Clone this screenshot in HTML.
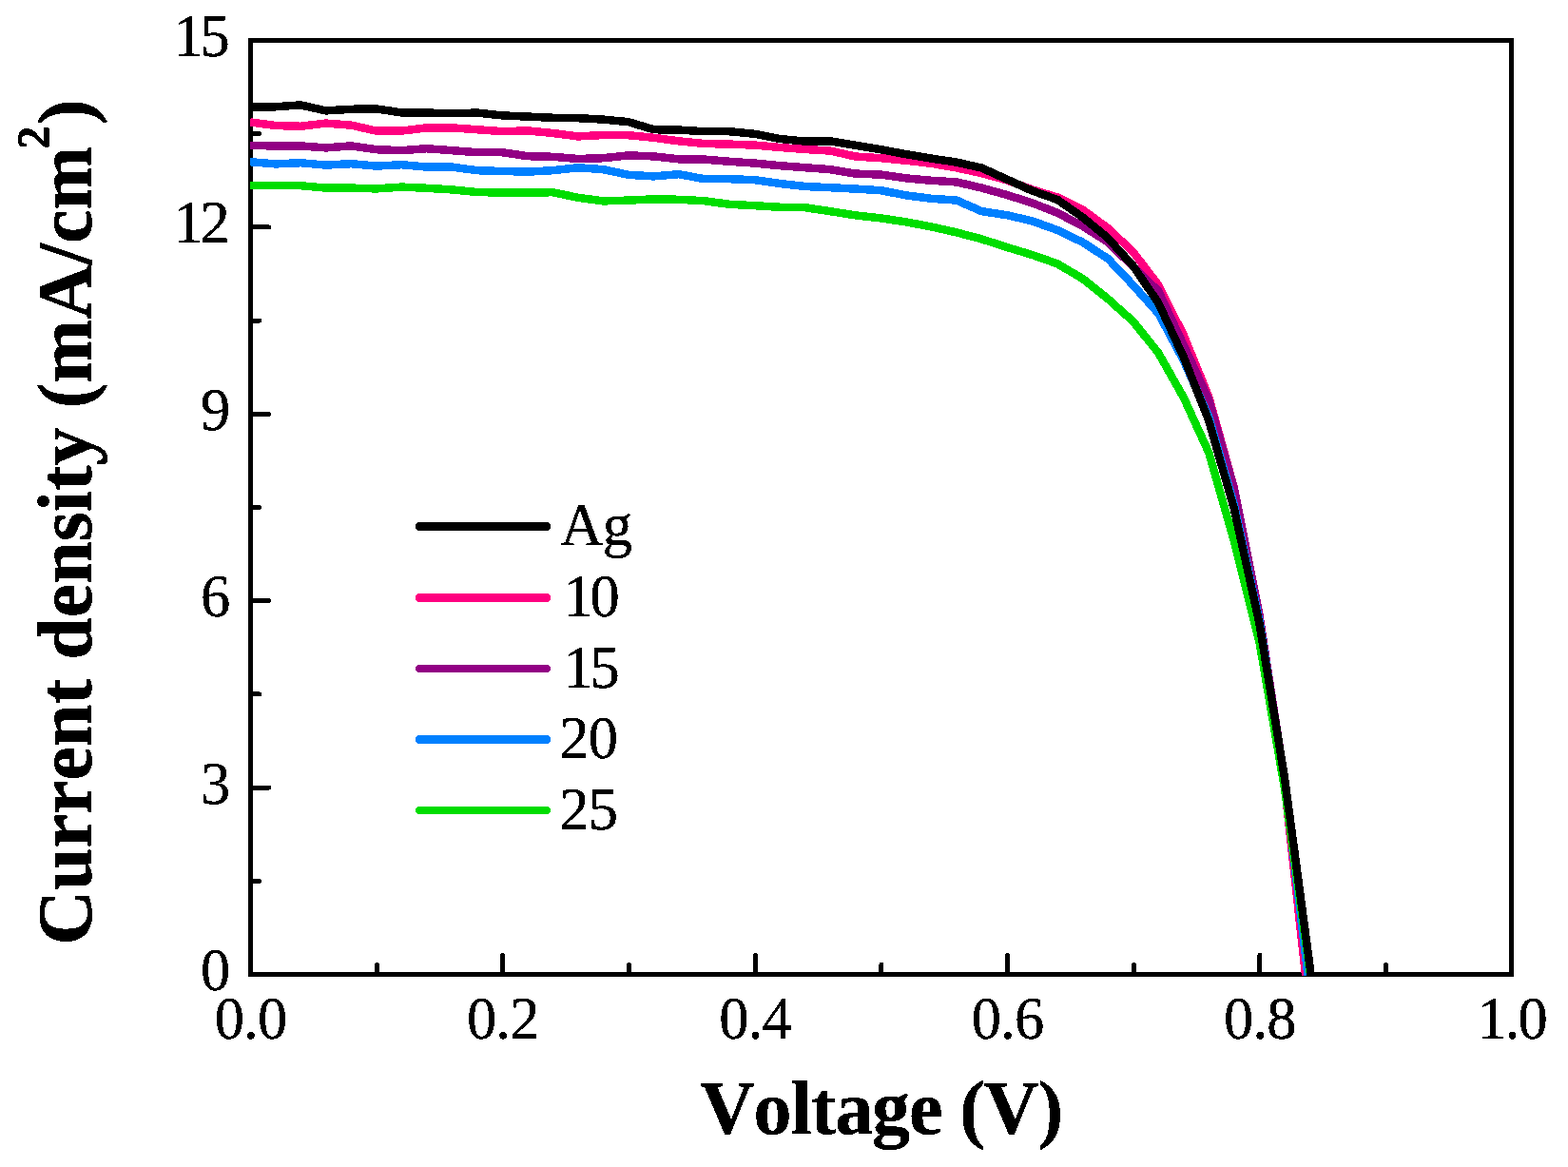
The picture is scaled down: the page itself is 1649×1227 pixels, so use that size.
<!DOCTYPE html>
<html lang="en"><head><meta charset="utf-8"><title>J-V curves</title>
<style>html,body{margin:0;padding:0;background:#fff;overflow:hidden}svg{display:block}text{font-family:"Liberation Serif","DejaVu Serif",serif;fill:#000;font-kerning:none;font-variant-ligatures:none;white-space:pre}.t{letter-spacing:-0.8px}.b{letter-spacing:-1.1px;font-weight:bold}.yb{font-weight:bold}</style>
</head><body>
<svg width="1649" height="1227" viewBox="0 0 1649 1227" shape-rendering="crispEdges">
<rect x="0" y="0" width="1649" height="1227" fill="#fff"/>
<defs><filter id="crisp" x="0" y="0" width="1649" height="1227" filterUnits="userSpaceOnUse" color-interpolation-filters="sRGB"><feComponentTransfer><feFuncA type="discrete" tableValues="0 1 1 1"/></feComponentTransfer></filter><clipPath id="plot"><rect x="263.0" y="42.5" width="1326.7" height="983.5"/></clipPath></defs>
<rect x="263.5" y="42.5" width="1326.0" height="982.0" fill="none" stroke="#000" stroke-width="5.0"/>
<path d="M396.2 1024.5 V1014.5 M528.8 1024.5 V1004.5 M661.5 1024.5 V1014.5 M794.2 1024.5 V1004.5 M926.9 1024.5 V1014.5 M1059.5 1024.5 V1004.5 M1192.2 1024.5 V1014.5 M1324.9 1024.5 V1004.5 M1457.5 1024.5 V1014.5 M263.5 926.3 H272.5 M263.5 828.1 H282.5 M263.5 729.9 H272.5 M263.5 631.7 H282.5 M263.5 533.5 H272.5 M263.5 435.3 H282.5 M263.5 337.1 H272.5 M263.5 238.9 H282.5 M263.5 140.7 H272.5" fill="none" stroke="#000" stroke-width="5.0" stroke-linecap="round"/>
<g clip-path="url(#plot)" fill="none" stroke-width="8.5" stroke-linejoin="round" stroke-linecap="butt">
<path d="M263.0 128.4 L289.5 132.0 L316.1 132.8 L342.6 129.6 L369.1 131.6 L395.7 137.6 L422.2 137.6 L448.7 134.4 L475.3 134.4 L501.8 136.2 L528.3 138.2 L554.9 137.4 L581.4 140.0 L607.9 143.4 L634.5 142.0 L661.0 142.2 L687.5 144.8 L714.1 148.4 L740.6 151.0 L767.1 151.6 L793.7 152.6 L820.2 155.0 L846.7 157.0 L873.3 158.6 L899.8 164.6 L926.4 166.2 L952.9 168.8 L979.4 171.8 L1006.0 176.4 L1032.5 182.2 L1059.0 189.4 L1085.6 199.4 L1112.1 207.5 L1138.6 220.5 L1165.2 240.0 L1191.7 265.0 L1218.2 299.7 L1244.8 352.5 L1271.3 417.5 L1297.8 512.8 L1324.4 650.2 L1350.9 824.5 L1377.4 1064.6 L1404.0 1290.0" stroke="#ff0080"/>
<path d="M263.0 153.0 L289.5 153.4 L316.1 153.4 L342.6 155.4 L369.1 153.4 L395.7 157.2 L422.2 158.2 L448.7 156.2 L475.3 158.2 L501.8 160.2 L528.3 160.2 L554.9 164.2 L581.4 164.8 L607.9 167.0 L634.5 166.2 L661.0 163.4 L687.5 164.4 L714.1 167.4 L740.6 167.6 L767.1 169.8 L793.7 171.6 L820.2 174.2 L846.7 176.2 L873.3 178.2 L899.8 182.6 L926.4 183.6 L952.9 187.4 L979.4 189.8 L1006.0 191.4 L1032.5 197.6 L1059.0 205.0 L1085.6 213.4 L1112.1 223.8 L1138.6 237.8 L1165.2 254.5 L1191.7 280.5 L1218.2 306.0 L1244.8 363.0 L1271.3 420.5 L1297.8 513.0 L1324.4 646.5 L1350.9 819.5 L1377.4 1031.0 L1404.0 1260.0" stroke="#920084"/>
<path d="M263.0 170.2 L289.5 172.4 L316.1 171.2 L342.6 173.6 L369.1 172.2 L395.7 174.6 L422.2 173.2 L448.7 175.6 L475.3 175.6 L501.8 179.2 L528.3 180.0 L554.9 180.6 L581.4 179.2 L607.9 176.2 L634.5 178.2 L661.0 183.8 L687.5 185.4 L714.1 183.2 L740.6 188.2 L767.1 188.2 L793.7 189.2 L820.2 193.0 L846.7 196.0 L873.3 197.2 L899.8 198.6 L926.4 200.2 L952.9 205.4 L979.4 208.8 L1006.0 210.6 L1032.5 222.2 L1059.0 226.2 L1085.6 232.4 L1112.1 242.0 L1138.6 254.7 L1165.2 272.0 L1191.7 299.9 L1218.2 329.5 L1244.8 379.0 L1271.3 438.5 L1297.8 530.8 L1324.4 652.2 L1350.9 820.5 L1377.4 1041.5 L1404.0 1270.0" stroke="#0080ff"/>
<path d="M263.0 195.2 L289.5 195.2 L316.1 195.2 L342.6 197.6 L369.1 197.6 L395.7 198.4 L422.2 196.6 L448.7 197.8 L475.3 199.4 L501.8 202.0 L528.3 202.6 L554.9 202.6 L581.4 202.2 L607.9 207.8 L634.5 211.4 L661.0 210.6 L687.5 209.4 L714.1 209.8 L740.6 211.2 L767.1 214.8 L793.7 216.2 L820.2 217.8 L846.7 218.2 L873.3 222.2 L899.8 226.4 L926.4 229.4 L952.9 233.4 L979.4 238.4 L1006.0 244.4 L1032.5 251.4 L1059.0 260.0 L1085.6 268.0 L1112.1 277.4 L1138.6 293.0 L1165.2 314.3 L1191.7 338.0 L1218.2 371.0 L1244.8 418.0 L1271.3 476.0 L1297.8 569.0 L1324.4 674.6 L1350.9 828.5 L1377.4 1020.0 L1404.0 1250.0" stroke="#00dd00"/>
<path d="M263.0 112.4 L289.5 112.3 L316.1 110.4 L342.6 116.4 L369.1 114.8 L395.7 114.4 L422.2 118.4 L448.7 118.6 L475.3 119.2 L501.8 118.6 L528.3 121.4 L554.9 122.6 L581.4 123.8 L607.9 124.2 L634.5 125.6 L661.0 128.2 L687.5 136.2 L714.1 136.6 L740.6 138.2 L767.1 138.2 L793.7 140.8 L820.2 146.0 L846.7 148.6 L873.3 148.4 L899.8 152.8 L926.4 157.2 L952.9 162.2 L979.4 166.6 L1006.0 170.6 L1032.5 176.6 L1059.0 188.6 L1085.6 200.6 L1112.1 210.0 L1138.6 228.5 L1165.2 250.3 L1191.7 279.7 L1218.2 318.5 L1244.8 375.5 L1271.3 442.5 L1297.8 534.8 L1324.4 655.2 L1350.9 817.5 L1377.4 1015.0 L1404.0 1240.0" stroke="#000000"/>
</g>
<g filter="url(#crisp)">
<g class="t" font-size="62.5">
<text x="241.5" y="1040.9" text-anchor="end">0</text>
<text x="241.5" y="844.5" text-anchor="end">3</text>
<text x="241.5" y="648.1" text-anchor="end">6</text>
<text x="241.5" y="451.7" text-anchor="end">9</text>
<text x="238.5" y="255.3" text-anchor="end" style="letter-spacing:-3.3px">12</text>
<text x="238.5" y="58.9" text-anchor="end" style="letter-spacing:-3.3px">15</text>
<text x="263.5" y="1092" text-anchor="middle">0.0</text>
<text x="528.8" y="1092" text-anchor="middle">0.2</text>
<text x="794.2" y="1092" text-anchor="middle">0.4</text>
<text x="1059.5" y="1092" text-anchor="middle">0.6</text>
<text x="1324.9" y="1092" text-anchor="middle">0.8</text>
<text x="1589.6" y="1092" text-anchor="middle" style="letter-spacing:-2px">1.0</text>
</g>
<g fill="none" stroke-linecap="round">
<path d="M441.2 553.5 H574.8" stroke="#000000" stroke-width="9"/>
<path d="M441.2 628.5 H574.8" stroke="#ff0080" stroke-width="9"/>
<path d="M441.2 703.0 H574.8" stroke="#920084" stroke-width="8"/>
<path d="M441.2 777.5 H574.8" stroke="#0080ff" stroke-width="9"/>
<path d="M441.2 852.0 H574.8" stroke="#00dd00" stroke-width="8"/>
</g>
<g class="t" font-size="62.5">
<text x="589.3" y="572.9">Ag</text>
<text x="592.5" y="647.8" style="letter-spacing:-3.3px">10</text>
<text x="592.5" y="722.6" style="letter-spacing:-3.3px">15</text>
<text x="588.3" y="796.7">20</text>
<text x="588.3" y="871.5">25</text>
</g>
<text x="926.5" y="1192" class="b" font-size="80" text-anchor="middle">Voltage (V)</text>
<text transform="translate(95.5 549) rotate(-90)" class="yb" font-size="80" text-anchor="middle">Current density (mA/cm<tspan font-size="48" dx="-2.5" dy="-43.7">2</tspan><tspan dx="1.5" dy="43.7">)</tspan></text>
</g>
</svg>
</body></html>
